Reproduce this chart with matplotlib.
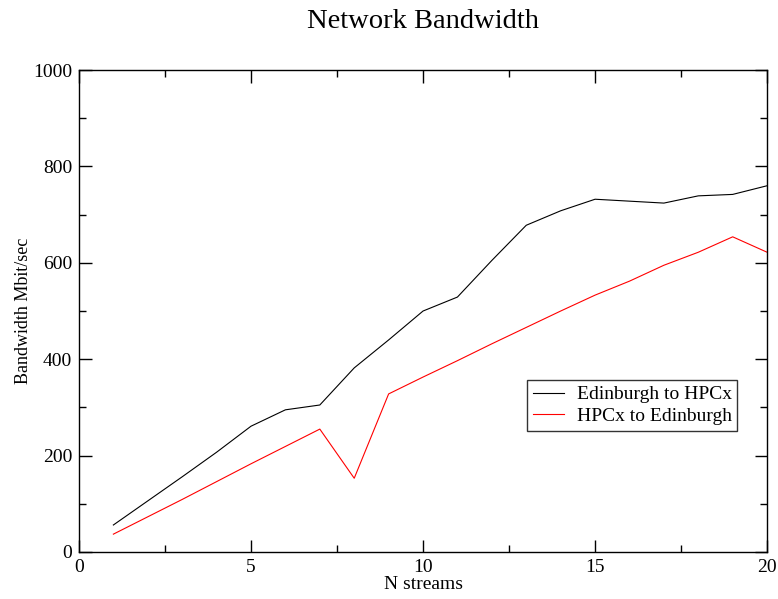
import matplotlib
matplotlib.use('Agg')
import matplotlib.pyplot as plt
import matplotlib.ticker as ticker

plt.rcParams['font.family'] = ['Liberation Serif', 'DejaVu Serif']

# data
n_streams = list(range(1, 21))
edin_to_hpcx = [56, 106, 156, 207, 261, 295, 305, 382, 440, 500,
                529, 605, 678, 708, 732, 728, 724, 739, 742, 760]
hpcx_to_edin = [37, 73, 109, 146, 183, 219, 255, 153, 328, 363,
                397, 432, 466, 500, 533, 562, 595, 622, 654, 622]

fig = plt.figure(figsize=(7.78, 5.99), dpi=100)
ax = fig.add_axes([0.1015, 0.0785, 0.8845, 0.8045])

ax.plot(n_streams, edin_to_hpcx, color='black', linewidth=0.8, label='Edinburgh to HPCx')
ax.plot(n_streams, hpcx_to_edin, color='red', linewidth=0.8, label='HPCx to Edinburgh')

ax.set_xlim(0, 20)
ax.set_ylim(0, 1000)
ax.xaxis.set_major_locator(ticker.MultipleLocator(5))
ax.xaxis.set_minor_locator(ticker.MultipleLocator(2.5))
ax.yaxis.set_major_locator(ticker.MultipleLocator(200))
ax.yaxis.set_minor_locator(ticker.MultipleLocator(100))
ax.tick_params(which='both', direction='in', top=True, right=True, labelsize=14, width=1, pad=5)
ax.tick_params(which='major', length=9)
ax.tick_params(which='minor', length=5)
for s in ax.spines.values():
    s.set_linewidth(1)

ax.set_title('Network Bandwidth', fontsize=20.5, pad=30)
ax.set_xlabel('N streams', fontsize=14, labelpad=0)
ax.set_ylabel('Bandwidth Mbit/sec', fontsize=13, labelpad=1)

leg = ax.legend(loc='upper left', bbox_to_anchor=(0.651, 0.357), fontsize=14,
                frameon=True, fancybox=False, edgecolor='black', handlelength=1.6,
                handletextpad=0.65, borderpad=0.3, labelspacing=0.2, borderaxespad=0)
leg.get_frame().set_linewidth(1)

fig.savefig('out.png', dpi=100)
